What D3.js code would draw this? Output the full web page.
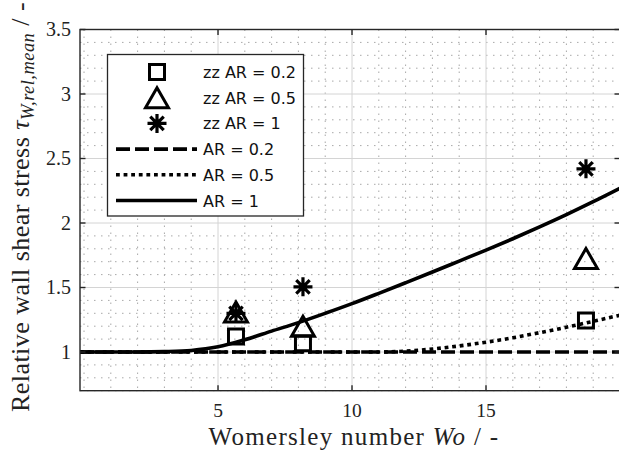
<!DOCTYPE html>
<html>
<head>
<meta charset="utf-8">
<script src="https://cdn.jsdelivr.net/npm/d3@7"></script>
<style>
  html, body { margin: 0; padding: 0; background: #fff; }
  svg { display: block; }
</style>
</head>
<body>
<svg id="chart" width="619" height="457"></svg>
<script>
// Measured wall shear stress (zig-zag channel) at three Womersley numbers
const woMeasured = [5.67, 8.17, 18.73];
const zzAR02 = [1.12, 1.067, 1.245];
const zzAR05 = [1.31, 1.20, 1.725];
const zzAR1  = [1.30, 1.505, 2.42];

// Model curves
const woModel   = [-0.15, 1, 2, 3, 4, 5, 6, 7, 8, 9, 10, 11, 12, 13, 14, 15, 16, 17, 18, 19, 20.1];
const modelAR02 = [1, 1, 1, 1, 1, 1, 1, 1, 1, 1, 1, 1, 1, 1, 1, 1, 1, 1, 1, 1, 1];
const modelAR05 = [1, 1, 1, 1, 1, 1, 1, 1, 1, 1, 1, 1.0, 1.007, 1.023, 1.047, 1.076, 1.11, 1.15, 1.192, 1.238, 1.29];
const modelAR1  = [1, 1, 1, 1.003, 1.012, 1.04, 1.095, 1.162, 1.228, 1.3, 1.375, 1.455, 1.537, 1.62, 1.705, 1.79, 1.878, 1.97, 2.065, 2.165, 2.28];

const xTicks = [5, 10, 15];
const yTicks = [1, 1.5, 2, 2.5, 3, 3.5];
const xMinor = d3.range(0, 21, 1);
const yMinor = d3.range(0.7, 3.51, 0.1);

const legendItems = [
  {label: "zz AR = 0.2", kind: "square"},
  {label: "zz AR = 0.5", kind: "triangle"},
  {label: "zz AR = 1",   kind: "star"},
  {label: "AR = 0.2",    kind: "dash"},
  {label: "AR = 0.5",    kind: "dot"},
  {label: "AR = 1",      kind: "solid"}
];

const svg = d3.select("#chart");
const plot = {left: 80, right: 620, top: 29.5, bottom: 390.7};

const x = d3.scaleLinear().domain([-0.15, 20]).range([plot.left, plot.right]);
const y = d3.scaleLinear().domain([0.7, 3.5]).range([plot.bottom, plot.top]);

const serif = "'Liberation Serif', 'Times New Roman', serif";
const sans = "'DejaVu Sans', sans-serif";

svg.append("rect").attr("width", 619).attr("height", 457).attr("fill", "#fff");

svg.append("defs").append("clipPath").attr("id", "plotclip")
  .append("rect")
  .attr("x", plot.left).attr("y", plot.top)
  .attr("width", plot.right - plot.left).attr("height", plot.bottom - plot.top);

// Minor grid (dotted)
const grid = svg.append("g");
grid.selectAll(".mx").data(xMinor.filter(v => !xTicks.includes(v) && x(v) > plot.left + 1))
  .join("line")
  .attr("x1", d => x(d)).attr("x2", d => x(d))
  .attr("y1", plot.top).attr("y2", plot.bottom)
  .attr("stroke", "#a8a8a8").attr("stroke-width", 1).attr("stroke-dasharray", "1.5,5.5");
grid.selectAll(".my").data(yMinor.filter(v => Math.abs(v * 2 - Math.round(v * 2)) > 0.01))
  .join("line")
  .attr("x1", plot.left).attr("x2", plot.right)
  .attr("y1", d => y(d)).attr("y2", d => y(d))
  .attr("stroke", "#a8a8a8").attr("stroke-width", 1).attr("stroke-dasharray", "1.5,5.5");

// Major grid (solid, light)
grid.selectAll(".gx").data(xTicks).join("line")
  .attr("x1", d => x(d)).attr("x2", d => x(d))
  .attr("y1", plot.top).attr("y2", plot.bottom)
  .attr("stroke", "#d4d4d4").attr("stroke-width", 1);
grid.selectAll(".gy").data(yTicks).join("line")
  .attr("x1", plot.left).attr("x2", plot.right)
  .attr("y1", d => y(d)).attr("y2", d => y(d))
  .attr("stroke", "#d4d4d4").attr("stroke-width", 1);

// Marker shapes
function squarePath(s) { const h = s / 2; return `M${-h},${-h}H${h}V${h}H${-h}Z`; }
function trianglePath(w, h) { return `M0,${-h / 2}L${w / 2},${h / 2}L${-w / 2},${h / 2}Z`; }
function starPath(r) {
  let p = "";
  for (let i = 0; i < 4; i++) {
    const a = i * Math.PI / 4;
    p += `M${-r * Math.cos(a)},${-r * Math.sin(a)}L${r * Math.cos(a)},${r * Math.sin(a)}`;
  }
  return p;
}
const markerPaths = {
  square: squarePath(15),
  triangle: trianglePath(23, 20),
  star: starPath(9.5)
};

const data = svg.append("g").attr("clip-path", "url(#plotclip)");

function drawMarkers(values, kind) {
  data.selectAll(null).data(values.map((v, i) => [woMeasured[i], v])).join("path")
    .attr("transform", d => `translate(${x(d[0])},${y(d[1])})`)
    .attr("d", markerPaths[kind])
    .attr("fill", "none").attr("stroke", "#000")
    .attr("stroke-width", kind === "star" ? 3.2 : 3)
    .attr("stroke-linejoin", "miter");
}
drawMarkers(zzAR02, "square");
drawMarkers(zzAR05, "triangle");
drawMarkers(zzAR1, "star");

const lineGen = d3.line().x(d => x(d[0])).y(d => y(d[1])).curve(d3.curveMonotoneX);
const styles = {
  dash:  {dash: "14,5"},
  dot:   {dash: "3.8,3.8"},
  solid: {dash: null}
};
function drawLine(values, kind) {
  data.append("path")
    .datum(values.map((v, i) => [woModel[i], v]))
    .attr("d", lineGen)
    .attr("fill", "none").attr("stroke", "#000")
    .attr("stroke-width", 3.6)
    .attr("stroke-dasharray", styles[kind].dash);
}
drawLine(modelAR02, "dash");
drawLine(modelAR05, "dot");
drawLine(modelAR1, "solid");

// Axes box and inward ticks
const axes = svg.append("g");
axes.append("rect")
  .attr("x", plot.left).attr("y", plot.top)
  .attr("width", plot.right - plot.left).attr("height", plot.bottom - plot.top)
  .attr("fill", "none").attr("stroke", "#262626").attr("stroke-width", 1.4);
const tl = 5.5;
xTicks.forEach(t => {
  axes.append("line").attr("x1", x(t)).attr("x2", x(t)).attr("y1", plot.bottom).attr("y2", plot.bottom - tl)
    .attr("stroke", "#262626").attr("stroke-width", 1.4);
  axes.append("line").attr("x1", x(t)).attr("x2", x(t)).attr("y1", plot.top).attr("y2", plot.top + tl)
    .attr("stroke", "#262626").attr("stroke-width", 1.4);
});
yTicks.forEach(t => {
  axes.append("line").attr("x1", plot.left).attr("x2", plot.left + tl).attr("y1", y(t)).attr("y2", y(t))
    .attr("stroke", "#262626").attr("stroke-width", 1.4);
  axes.append("line").attr("x1", plot.right).attr("x2", plot.right - tl).attr("y1", y(t)).attr("y2", y(t))
    .attr("stroke", "#262626").attr("stroke-width", 1.4);
});

// Tick labels
svg.append("g").selectAll("text").data(xTicks).join("text")
  .attr("x", d => x(d)).attr("y", 416.5)
  .attr("text-anchor", "middle")
  .attr("font-family", serif).attr("font-size", 19.5).attr("fill", "#222")
  .text(d => d3.format("~g")(d));
svg.append("g").selectAll("text").data(yTicks).join("text")
  .attr("x", 71).attr("y", d => y(d) + 6.5)
  .attr("text-anchor", "end")
  .attr("font-family", serif).attr("font-size", 20).attr("fill", "#222")
  .text(d => d3.format("~g")(d));

// Axis labels
const xl = svg.append("text")
  .attr("x", 354).attr("y", 444.5)
  .attr("text-anchor", "middle")
  .attr("font-family", serif).attr("font-size", 25).attr("letter-spacing", 1.3).attr("fill", "#222");
xl.append("tspan").text("Womersley number ");
xl.append("tspan").attr("font-style", "italic").text("Wo");
xl.append("tspan").text(" / -");

const yl = svg.append("text")
  .attr("transform", "translate(29,207) rotate(-90)")
  .attr("text-anchor", "middle")
  .attr("font-family", serif).attr("font-size", 26).attr("letter-spacing", 0.45).attr("fill", "#222");
yl.append("tspan").text("Relative wall shear stress ");
yl.append("tspan").attr("font-style", "italic").text("τ");
yl.append("tspan").attr("font-style", "italic").attr("font-size", 18.5).attr("dy", 5).text("W,rel,mean");
yl.append("tspan").attr("dy", -5).text(" / -");

// Legend
const lg = svg.append("g");
lg.append("rect").attr("x", 107.5).attr("y", 54.5).attr("width", 196).attr("height", 161.5)
  .attr("fill", "#fff").attr("stroke", "#262626").attr("stroke-width", 1.3);
legendItems.forEach((it, i) => {
  const cy = 72 + i * 25.7;
  if (markerPaths[it.kind]) {
    lg.append("path").attr("transform", `translate(157,${cy})`).attr("d", markerPaths[it.kind])
      .attr("fill", "none").attr("stroke", "#000").attr("stroke-width", it.kind === "star" ? 3.2 : 3);
  } else {
    lg.append("line").attr("x1", 116).attr("x2", 197).attr("y1", cy).attr("y2", cy)
      .attr("stroke", "#000").attr("stroke-width", 3.6)
      .attr("stroke-dasharray", styles[it.kind].dash);
  }
  lg.append("text").attr("x", 203).attr("y", cy + 6)
    .attr("font-family", sans).attr("font-size", 16).attr("fill", "#111")
    .text(it.label);
});
</script>
</body>
</html>
